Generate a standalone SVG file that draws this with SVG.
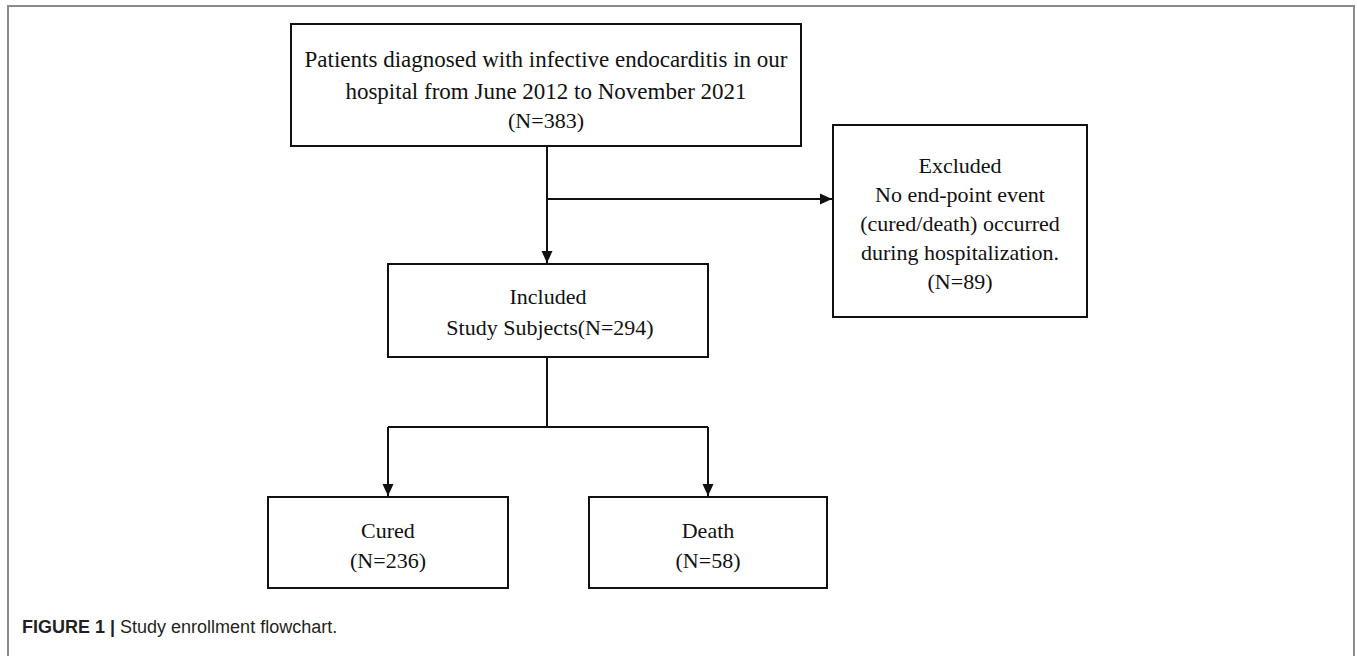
<svg xmlns="http://www.w3.org/2000/svg" width="1357" height="656" viewBox="0 0 1357 656">
<style>
.box{fill:#fff;stroke:#111;stroke-width:2}
.t{font-family:"Liberation Serif","Times New Roman",serif;font-size:22px;fill:#111;text-anchor:middle}
.big{font-size:23px}
.c{stroke:#111;stroke-width:2;fill:none}
.cap{font-family:"Liberation Sans",Arial,sans-serif;font-size:18px;fill:#231f20}
</style>
<defs>
<marker id="ah" markerWidth="12" markerHeight="14" refX="12" refY="6" orient="auto" markerUnits="userSpaceOnUse">
<path d="M0,0.5 L12,6 L0,11.5 Z" fill="#111"/>
</marker>
</defs>
<rect width="1357" height="656" fill="#fff"/>
<path d="M8,656 V6 H1354 V656" fill="none" stroke="#8a8a8a" stroke-width="2"/>
<g id="connectors">
<path class="c" d="M547,146 V263" marker-end="url(#ah)"/>
<path class="c" d="M547,199 H832" marker-end="url(#ah)"/>
<path class="c" d="M547,357 V427 M388,427 H708"/>
<path class="c" d="M388,427 V496" marker-end="url(#ah)"/>
<path class="c" d="M708,427 V496" marker-end="url(#ah)"/>
</g>
<g id="node-patients">
<rect class="box" x="291" y="24" width="510" height="122"/>
<text class="t big" x="546" y="67">Patients diagnosed with infective endocarditis in our</text>
<text class="t big" x="546" y="99">hospital from June 2012 to November 2021</text>
<text class="t" x="546" y="128">(N=383)</text>
</g>
<g id="node-excluded">
<rect class="box" x="833" y="125" width="254" height="192"/>
<text class="t" x="960" y="173">Excluded</text>
<text class="t" x="960" y="202">No end-point event</text>
<text class="t" x="960" y="231">(cured/death) occurred</text>
<text class="t" x="960" y="260">during hospitalization.</text>
<text class="t" x="960" y="289">(N=89)</text>
</g>
<g id="node-included">
<rect class="box" x="388" y="264" width="320" height="93"/>
<text class="t" x="548" y="304">Included</text>
<text class="t" x="550" y="335">Study Subjects(N=294)</text>
</g>
<g id="node-cured">
<rect class="box" x="268" y="497" width="240" height="91"/>
<text class="t" x="388" y="538">Cured</text>
<text class="t" x="388" y="568">(N=236)</text>
</g>
<g id="node-death">
<rect class="box" x="589" y="497" width="238" height="91"/>
<text class="t" x="708" y="538">Death</text>
<text class="t" x="708" y="568">(N=58)</text>
</g>
<text class="cap" x="22" y="633"><tspan font-weight="bold">FIGURE 1 | </tspan>Study enrollment flowchart.</text>
</svg>
